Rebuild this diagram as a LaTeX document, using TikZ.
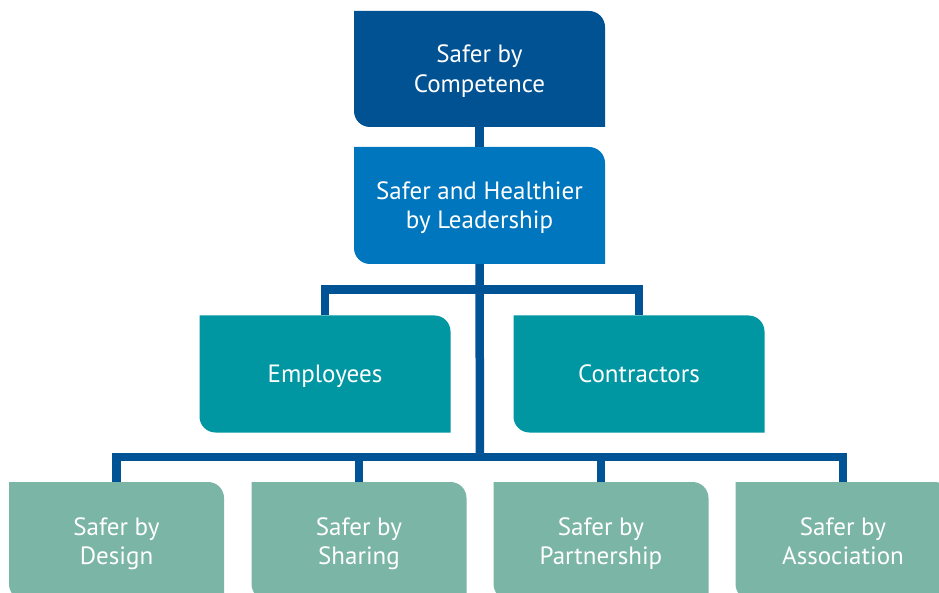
\documentclass[tikz,border=0pt]{standalone}
\usepackage{fontspec}
\setmainfont{PT Sans}
\definecolor{topc}{RGB}{0,82,147}
\definecolor{midc}{RGB}{0,118,190}
\definecolor{tealc}{RGB}{0,150,162}
\definecolor{sagec}{RGB}{123,181,165}
\definecolor{linec}{RGB}{0,84,150}
\newcommand\capstrut{\rule[-6pt]{0pt}{29.5pt}}
\tikzset{
  orgbox/.style={minimum width=#1, inner sep=0pt, text=white, align=center,
    font=\fontsize{25}{29.5}\selectfont},
  boxfill/.style={path picture={\fill[#1]
      (path picture bounding box.north west)
      -- ([xshift=-16pt]path picture bounding box.north east)
      arc[start angle=90, end angle=0, radius=16pt]
      -- (path picture bounding box.south east)
      -- ([xshift=16pt]path picture bounding box.south west)
      arc[start angle=270, end angle=180, radius=16pt]
      -- cycle;}},
  topbox/.style={orgbox=251pt, minimum height=116pt, boxfill=topc},
  midbox/.style={orgbox=251pt, minimum height=117pt, boxfill=midc},
  grpbox/.style={orgbox=251pt, minimum height=117pt, boxfill=tealc},
  leafbox/.style={orgbox=215pt, minimum height=118pt, boxfill=sagec},
  conn/.style={draw=linec, line width=8.5pt, line join=miter}
}
\begin{document}
\begin{tikzpicture}
\useasboundingbox (0,0) rectangle (939pt,-593pt);
\clip (0,0) rectangle (939pt,-593pt);
\node[topbox] (comp) at (479.5pt,-69pt) {\capstrut Safer by\\\capstrut Competence};
\node[midbox] (lead) at (479.5pt,-205.5pt) {\capstrut Safer and Healthier\\\capstrut by Leadership};
\node[grpbox] (emp) at (325pt,-374pt) {\capstrut Employees};
\node[grpbox] (con) at (639pt,-374pt) {\capstrut Contractors};
\node[leafbox] (des) at (116.5pt,-541pt) {\capstrut Safer by\\\capstrut Design};
\node[leafbox] (sha) at (359pt,-541pt) {\capstrut Safer by\\\capstrut Sharing};
\node[leafbox] (par) at (601pt,-541pt) {\capstrut Safer by\\\capstrut Partnership};
\node[leafbox] (ass) at (843pt,-541pt) {\capstrut Safer by\\\capstrut Association};
\coordinate (jA) at (480pt,-289.5pt);
\coordinate (jB) at (480pt,-457pt);
\draw[conn] (comp.south) -- (lead.north);
\draw[conn] (lead.south) -- (jB);
\draw[conn] (emp.north) |- (jA) -| (con.north);
\draw[conn] (des.north) |- (jB) -| (ass.north);
\draw[conn] (sha.north) -- (sha.north |- jB);
\draw[conn] (par.north) -- (par.north |- jB);
\end{tikzpicture}
\end{document}
